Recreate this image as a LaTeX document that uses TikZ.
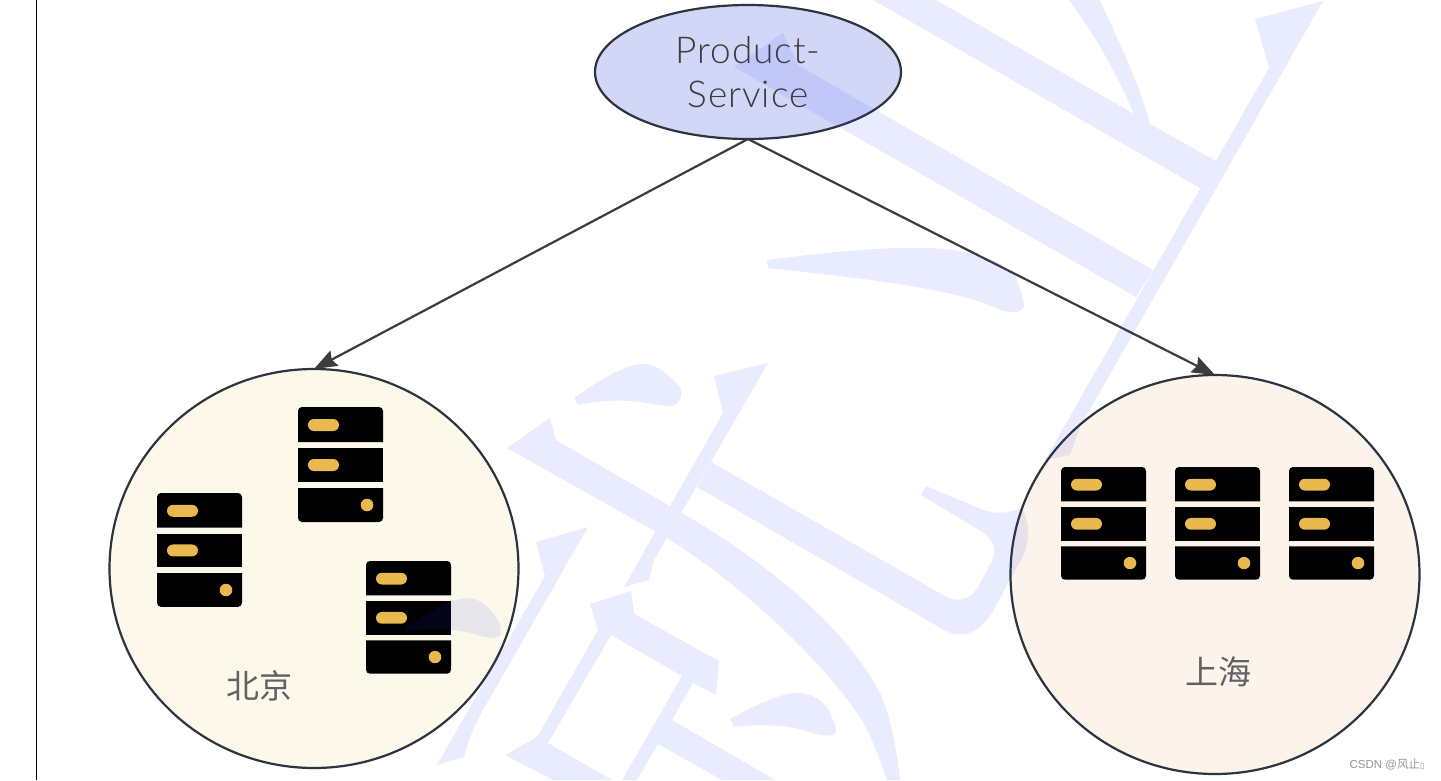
\documentclass[tikz,border=0pt]{standalone}
\usepackage{fontspec}
\usepackage{xcolor}
\usepackage{tikz}
\usetikzlibrary{arrows.meta,shapes.geometric}
\setmainfont[LetterSpace=2.5]{Lato Light}
\newfontfamily\cjk{Noto Sans CJK SC}
\newfontfamily\boxfont{DejaVu Sans}
\newfontfamily\tagfont{Liberation Sans}
\definecolor{rim}{HTML}{2C3440}
\definecolor{pen}{HTML}{3C3C3C}
\definecolor{lamp}{HTML}{E9B94F}
\definecolor{veil}{HTML}{1E3CF5}
\definecolor{lilac}{HTML}{D2D7F8}
\definecolor{cream}{HTML}{FCF9EB}
\definecolor{blush}{HTML}{FCF3EA}
\tikzset{
  service/.style={ellipse, draw=rim, line width=2.2pt, fill=lilac, minimum width=306pt, minimum height=134pt, inner sep=0pt, outer sep=0pt, text=pen, align=center, font=\fontsize{37}{44}\selectfont},
  city/.style={ellipse, draw=rim, line width=2.2pt, minimum width=409pt, minimum height=399pt, inner sep=0pt, outer sep=0pt},
  place/.style={text=black!62, font=\fontsize{33}{36}\selectfont\cjk},
  link/.style={-{Stealth[length=23pt,width=17pt,inset=3pt]}, draw=pen, line width=2.2pt}
}
\begin{document}
\begin{tikzpicture}[x=1pt, y=-1pt]
    \useasboundingbox (0,0) rectangle (1441,780);
    \fill[white] (0,0) rectangle (1441,780);

    \coordinate (top) at (36.5,0);
    \coordinate (bottom) at (36.5,780);
    \draw [black, line width=1pt] (top) -- (bottom);

    \node [service] (s) at (748,72) {Product-\\Service};
    \node [city, fill=cream] (bj) at (314,568.5) {};
    \node [city, fill=blush] (sh) at (1215,574.5) {};

    \draw [link] (s.south) to (bj.north);
    \draw [link] (s.south) to (sh.north);

    \node [place] (bjname) at (259,686) {北京};
    \node [place] (shname) at (1218,672) {上海};

    % racks
    \foreach \x/\y/\s in {298/407/1, 157/493/0.99, 366/561/0.98, 1061/467/0.98, 1175/467/0.98, 1289/467/0.98} {
      \begin{scope}[shift={(\x,\y)}, yscale=\s]
        \fill [black] (0,35) [rounded corners=4pt] -- (0,0) -- (85,0) [sharp corners] -- (85,35) -- cycle;
        \fill [black] (0,41) rectangle (85,75);
        \fill [black] (0,81) [rounded corners=4pt] -- (0,115) -- (85,115) [sharp corners] -- (85,81) -- cycle;
        \fill [lamp, rounded corners=5.9pt] (10,12) rectangle (41,24);
        \fill [lamp, rounded corners=5.9pt] (10,52) rectangle (41,64);
        \fill [lamp] (69,98) circle (6.3pt);
      \end{scope}
    }

    \node [text=black!42, font=\fontsize{11.5}{14}\selectfont\tagfont, anchor=east] (tag) at (1428,764) {CSDN @{\cjk 风止}{\boxfont\fontsize{8}{10}\selectfont ▯}};

    % big letters laid over everything
    \begin{scope}[transparency group, opacity=0.095]
      \fill [veil] (873,0) -- (936,0) -- (1134,114) .. controls (1115,70) and (1095,35) .. (1069,0) -- (1100,0)
        .. controls (1120,45) and (1140,85) .. (1150,124) -- (1216,161) -- (1200,188) -- cycle;
      \fill [veil] (1323,1) -- (1255,19) -- (1269,68) -- (1045,460) -- (1070,455) -- (1080,427) -- cycle;
      \fill [veil] (783,33) -- (734,67) -- (1136,297) -- (1153,270) -- (798,65) -- cycle;
      \fill [veil] (767,260) .. controls (830,252) and (880,247) .. (924,248) .. controls (975,249) and (1005,262) .. (1016,277)
        .. controls (1020,290) and (1024,300) .. (1024,307) .. controls (1022,313) and (1012,313) .. (1000,310)
        .. controls (960,290) and (880,280) .. (768,268) -- cycle;
      \fill [veil] (574,398) .. controls (600,380) and (625,364) .. (643,364) .. controls (660,364) and (668,376) .. (680,387)
        .. controls (682,395) and (682,402) .. (672,406) .. controls (655,407) and (630,394) .. (578,405) -- cycle;
      \fill [veil] (507,448) -- (550,418) -- (556,440) -- (682,513) .. controls (780,570) and (850,635) .. (880,693)
        .. controls (890,715) and (896,745) .. (900,780) -- (887,780) .. controls (875,745) and (865,722) .. (853,707)
        .. controls (820,662) and (750,590) .. (667,538) -- cycle;
      \fill [veil] (768,363) -- (714,376) -- (723,413) -- (624,587) -- (649,580) -- (654,560) -- cycle;
      \fill [veil] (711,462) -- (943,595) .. controls (955,602) and (968,603) .. (978,587) -- (991,563)
        .. controls (997,550) and (994,540) .. (984,533) -- (921,495) -- (926,486) -- (976,507)
        .. controls (990,514) and (1005,515) .. (1021,508) .. controls (1030,520) and (1032,545) .. (1017,567) -- (995,607)
        .. controls (980,637) and (958,640) .. (939,627) -- (697,487) -- cycle;
      \fill [veil] (588,527) -- (536,542) -- (545,576) -- (437,765) -- (464,757) .. controls (468,740) and (475,725) .. (483,710) -- cycle;
      \fill [veil] (590,604) -- (631,591) -- (634,614) -- (719,661) -- (716,695) -- (693,683) -- (672,720) -- (775,780) -- (722,780)
        -- (658,744) -- (637,780) -- (622,780) -- (682,676) -- (611,635) -- (548,743) -- (612,780) -- (553,780) -- (505,755)
        -- (537,737) -- (598,630) -- cycle;
      \fill [veil] (730,719) .. controls (760,703) and (782,693) .. (797,693) .. controls (815,693) and (828,705) .. (831,715)
        .. controls (834,722) and (836,728) .. (836,732) .. controls (832,738) and (820,736) .. (803,730)
        .. controls (785,725) and (760,724) .. (734,727) -- cycle;
      \fill [veil] (405,627) .. controls (430,612) and (452,598) .. (468,598) .. controls (482,598) and (497,615) .. (500,625)
        -- (501,635) .. controls (497,640) and (485,638) .. (470,633) .. controls (450,628) and (425,628) .. (405,632) -- cycle;
    \end{scope}
\end{tikzpicture}
\end{document}
